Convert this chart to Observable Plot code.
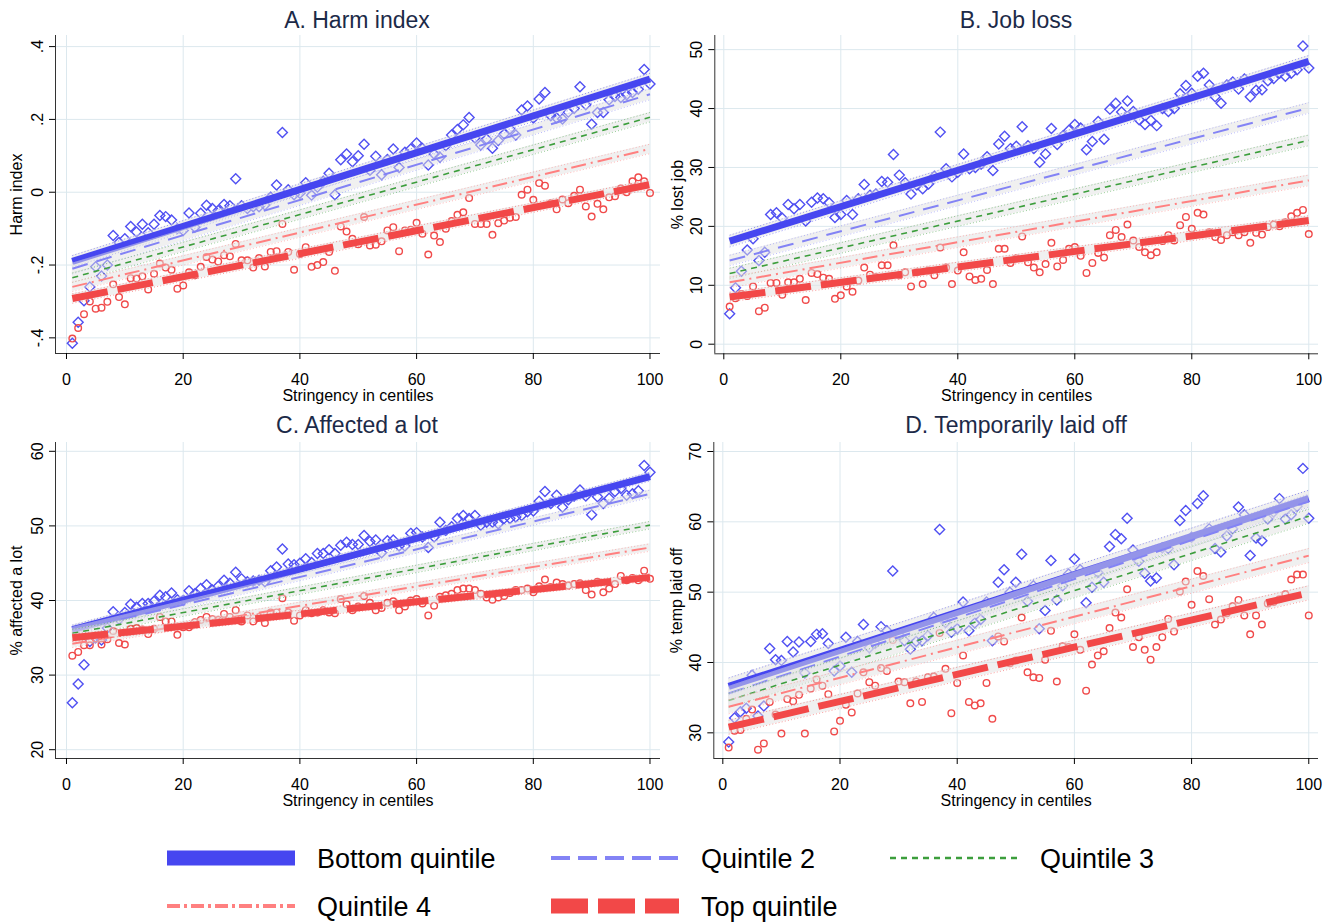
<!DOCTYPE html>
<html><head><meta charset="utf-8">
<script src="https://cdn.jsdelivr.net/npm/d3@7"></script>
<script src="https://cdn.jsdelivr.net/npm/@observablehq/plot@0.6"></script>
<style>
body{margin:0;background:#fff;font-family:"Liberation Sans",Arial,sans-serif;}
#wrap{position:relative;width:1334px;height:923px;overflow:hidden;background:#fff;}
.panel{position:absolute;}
.title{position:absolute;font-size:23px;color:#1c2a48;transform:translate(-50%,-50%);white-space:nowrap;}
</style></head><body><div id="wrap"></div>
<script>
const centiles = d3.range(1, 101);
const xTicks = [0, 20, 40, 60, 80, 100];
const quintiles = ["Bottom quintile", "Quintile 2", "Quintile 3", "Quintile 4", "Top quintile"];
const panelTitles = ["A. Harm index", "B. Job loss", "C. Affected a lot", "D. Temporarily laid off"];
const yLabels = ["Harm index", "% lost job", "% affected a lot", "% temp laid off"];
const xLabel = "Stringency in centiles";

const harmTicks = [-0.4, -0.2, 0, 0.2, 0.4];
const jobTicks = [0, 10, 20, 30, 40, 50];
const affTicks = [20, 30, 40, 50, 60];
const tempTicks = [30, 40, 50, 60, 70];

// Scatter: bottom quintile (diamonds) and top quintile (circles), centiles 1..100
const harmBottom = [-0.415,-0.357,-0.298,-0.26,-0.205,-0.23,-0.20,-0.119,-0.138,-0.128,
 -0.094,-0.109,-0.088,-0.111,-0.088,-0.064,-0.067,-0.076,-0.10,-0.105,
 -0.057,-0.096,-0.058,-0.036,-0.045,-0.05,-0.034,-0.037,0.037,-0.037,
 -0.045,-0.040,-0.040,-0.035,-0.014,0.02,0.164,0.007,-0.007,-0.003,
 0.026,-0.008,0.014,0.03,0.052,-0.007,0.089,0.105,0.084,0.10,
 0.132,0.06,0.099,0.048,0.09,0.119,0.068,0.11,0.119,0.135,
 0.12,0.075,0.105,0.096,0.128,0.157,0.172,0.185,0.205,0.149,
 0.13,0.146,0.121,0.142,0.16,0.174,0.157,0.226,0.237,0.204,
 0.256,0.274,0.21,0.204,0.201,0.22,0.23,0.29,0.24,0.187,
 0.219,0.219,0.254,0.263,0.26,0.268,0.274,0.283,0.337,0.297];
const harmTop = [-0.402,-0.373,-0.335,-0.30,-0.32,-0.317,-0.301,-0.253,-0.288,-0.308,
 -0.236,-0.237,-0.231,-0.267,-0.224,-0.196,-0.207,-0.213,-0.265,-0.256,
 -0.22,-0.228,-0.205,-0.178,-0.185,-0.19,-0.173,-0.176,-0.142,-0.187,
 -0.187,-0.207,-0.181,-0.204,-0.164,-0.162,-0.087,-0.164,-0.213,-0.17,
 -0.151,-0.205,-0.20,-0.192,-0.164,-0.216,-0.094,-0.108,-0.128,-0.143,
 -0.068,-0.146,-0.144,-0.135,-0.105,-0.096,-0.162,-0.105,-0.103,-0.084,
 -0.114,-0.171,-0.119,-0.137,-0.10,-0.079,-0.062,-0.055,-0.016,-0.087,
 -0.087,-0.087,-0.117,-0.085,-0.078,-0.07,-0.068,-0.007,0.007,-0.021,
 0.025,0.018,-0.03,-0.047,-0.02,-0.03,-0.01,0.007,-0.039,-0.067,
 -0.032,-0.047,-0.014,-0.011,0.01,0.0,0.03,0.041,0.03,-0.002];
const jobBottom = [5.15,9.57,12.4,16,17.9,14.2,15.6,22.0,22.3,21.4,
 23.7,23.0,23.7,20.9,24.1,24.8,24.7,24.0,21.5,22.0,
 24.4,22.0,24.7,27.1,25.3,25.5,27.6,27.5,32.2,28.7,
 27.4,25.5,27.0,26.4,27.2,28.5,36.0,29.8,28.4,29.2,
 32.3,29.8,30.0,30.6,31.8,29.5,34.0,35.3,33.2,33.6,
 36.9,33.7,33.2,30.9,32.3,36.6,33.9,35.4,36.3,37.3,
 36.7,33.0,34.4,37.8,34.8,39.9,40.9,39.4,41.3,39.5,
 38.1,37.3,38.0,37.1,40.0,39.5,40.0,42.5,43.9,42.6,
 45.5,46.0,44.0,42.0,40.9,44.0,44.5,43.3,45.0,42.0,
 43.1,43.2,44.7,45.1,46.0,45.5,46.0,46.6,50.6,46.9];
const jobTop = [6.4,7.8,8.5,8.2,9.8,5.6,6.2,10.4,10.4,8.4,
 10.5,10.5,11.1,7.5,12.1,11.9,11.3,11.1,7.7,8.3,
 9.8,8.9,10.8,13.0,11.8,11.4,13.4,13.4,16.8,11.7,
 12.2,9.8,12.2,10.2,12.5,11.7,16.4,13.0,10.2,12.5,
 15.6,11.5,10.9,11.1,12.6,10.2,16.2,16.2,13.8,14.6,
 18.3,13.9,13.0,12.2,13.6,17.2,13.2,14.3,16.2,16.5,
 15.0,12.1,13.8,15.5,14.7,18.5,19.4,18.2,20.3,17.6,
 16.5,15.6,15.1,15.6,17.5,18.5,17.6,20.2,21.6,19.6,
 22.3,22.0,19.0,18.2,17.7,18.5,19.0,18.5,19.0,17.2,
 18.9,18.6,19.9,20.3,20.0,20.7,21.7,22.3,22.8,18.7];
const affBottom = [26.3,28.8,31.4,34.5,35.0,34.7,36.3,38.5,37.5,38.4,
 39.5,39.1,39.6,39.6,39.9,40.7,40.5,41.0,40.1,40.0,
 41.3,40.9,41.6,42.1,41.4,41.9,42.7,42.3,43.8,42.9,
 42.5,42.6,42.7,42.5,44.0,44.5,46.9,44.9,44.8,45.0,
 45.6,45.1,46.3,46.3,46.8,46.3,47.4,47.8,47.5,47.5,
 48.7,47.9,48.1,46.4,48.0,48.1,47.3,47.3,49.0,49.1,
 48.5,47.1,48.5,50.5,49.4,49.9,51.0,51.4,51.0,51.4,
 50.1,50.5,50.5,50.3,51.0,51.0,51.2,51.4,51.9,52.0,
 53.3,54.6,53.0,54.1,52.5,53.5,54.0,54.8,54.0,51.5,
 53.9,53.0,53.7,54.6,55.0,54.1,54.3,54.7,58.1,57.2];
const affTop = [32.6,33.1,34.0,34.0,34.9,34.1,34.8,35.9,34.3,34.1,
 36.2,36.3,36.1,35.5,36.2,37.8,37.2,37.2,35.4,36.4,
 36.4,37.1,37.4,37.8,37.5,37.4,38.2,37.8,38.7,37.2,
 38.0,37.2,37.8,37.0,38.4,38.4,40.3,38.4,37.3,38.0,
 38.7,38.3,38.4,38.7,38.4,38.3,40.2,39.5,38.7,39.2,
 40.6,39.7,38.7,39.0,39.7,39.9,38.7,39.2,40.0,40.2,
 39.6,38.0,39.3,40.5,40.7,40.9,41.4,41.6,41.6,41.4,
 40.9,40.4,40.1,40.4,40.6,41.0,41.4,41.4,41.6,41.1,
 41.9,42.8,41.8,42.4,42.2,42.0,42.2,42.3,41.4,40.8,
 42.5,41.1,41.6,42.2,43.3,42.7,43.0,42.7,44.0,42.9];
const tempBottom = [28.7,32.1,33.0,33.5,38.2,32.4,33.8,42.0,40.4,40.3,
 43.0,41.5,42.9,38.5,43.0,44.0,44.1,42.7,38.8,39.5,
 43.6,38.6,43.0,45.4,42.1,42.7,45.1,44.5,53.0,44.0,
 43.1,41.9,43.0,43.1,43.8,46.4,58.9,45.7,44.3,44.8,
 48.6,44.5,45.6,46.1,48.6,43.1,51.4,53.2,50.0,51.4,
 55.4,48.7,50.9,44.8,47.4,54.5,48.9,50.9,52.6,54.7,
 53.2,48.5,50.7,52.8,51.4,56.5,58.2,57.6,60.5,56.0,
 54.4,52.7,51.6,52.0,56.3,56.2,53.9,60.2,61.6,57.8,
 62.6,63.7,59.0,56.2,55.7,58.0,59.0,62.1,61.0,55.2,
 57.7,57.3,60.4,61.4,63.3,60.4,61.0,62.2,67.6,60.5];
const tempTop = [27.9,30.3,30.4,32.0,33.3,27.6,28.5,34.4,32.6,29.9,
 34.8,34.5,35.4,29.9,36.3,37.6,36.7,35.5,30.2,31.7,
 34.0,32.9,35.6,38.6,37.2,36.7,39.2,38.8,43.2,37.3,
 37.2,34.2,37.3,34.4,37.9,38.0,44.2,39.1,32.8,37.1,
 41.0,34.4,33.9,34.2,37.1,32.0,43.7,43.0,39.9,40.3,
 46.4,38.6,37.9,37.8,40.4,44.5,37.3,42.3,42.2,44.0,
 41.8,36.0,39.7,41.0,41.6,44.9,47.1,46.4,50.4,42.2,
 43.6,41.8,40.4,42.2,43.6,46.2,44.4,50.1,51.5,48.2,
 53.0,52.3,49.0,45.4,46.1,47.0,48.0,48.9,46.7,44.0,
 46.7,45.4,48.4,48.6,49.0,49.7,51.8,52.5,52.5,46.7];

// Fitted lines (value at centile 1 and centile 100) for the five quintiles, and CI half-widths
const harmFitStart = [-0.19, -0.21, -0.235, -0.26, -0.292];
const harmFitEnd   = [0.311, 0.269, 0.206, 0.119, 0.021];
const harmCI       = [0.016, 0.015, 0.013, 0.013, 0.013];
const jobFitStart  = [17.5, 14.2, 12.0, 10.5, 8.0];
const jobFitEnd    = [48.0, 40.1, 34.6, 27.8, 21.0];
const jobCI        = [1.0, 0.9, 0.9, 0.9, 0.8];
const affFitStart  = [36.1, 35.9, 35.6, 34.2, 35.0];
const affFitEnd    = [56.6, 54.3, 50.1, 47.1, 43.1];
const affCI        = [0.6, 0.5, 0.5, 0.5, 0.5];
const tempFitStart = [36.6, 35.6, 34.6, 33.7, 30.8];
const tempFitEnd   = [63.3, 62.9, 60.8, 55.2, 49.9];
const tempCI       = [1.2, 1.0, 1.0, 1.0, 1.0];

const lineStyles = [
  {stroke: "#4646f0", width: 7, dash: null},
  {stroke: "#8383f5", width: 2, dash: "16,9"},
  {stroke: "#3c9e3c", width: 1.6, dash: "6,5"},
  {stroke: "#ff8080", width: 2, dash: "15,5,2,5"},
  {stroke: "#f24848", width: 7, dash: "36,10"}
];
const stataFmt = d => d === 0 ? "0" : (d < 0 ? "-" : "") + String(Math.abs(+d.toFixed(2))).replace(/^0/, "");

const panels = [
  {title: panelTitles[0], ylabel: yLabels[0], bottom: harmBottom, top: harmTop, fs: harmFitStart, fe: harmFitEnd, ci: harmCI, yTicks: harmTicks, fmt: stataFmt,
   left: 0, topPx: 0, mL: 55, mR: 7, mT: 35, mB: 57, xd: [-1.885, 101.8], yd: [-0.443, 0.4305], lo: 45, tcx: 357, tcy: 20},
  {title: panelTitles[1], ylabel: yLabels[1], bottom: jobBottom, top: jobTop, fs: jobFitStart, fe: jobFitEnd, ci: jobCI, yTicks: jobTicks, fmt: d => String(d),
   left: 667, topPx: 0, mL: 47.3, mR: 16, mT: 35, mB: 56.7, xd: [-1.54, 101.66], yd: [-1.63, 52.4], lo: 43, tcx: 1016, tcy: 20},
  {title: panelTitles[2], ylabel: yLabels[2], bottom: affBottom, top: affTop, fs: affFitStart, fe: affFitEnd, ci: affCI, yTicks: affTicks, fmt: d => String(d),
   left: 0, topPx: 405, mL: 55, mR: 7, mT: 37, mB: 57, xd: [-1.885, 101.8], yd: [18.82, 61.18], lo: 45, tcx: 357, tcy: 425},
  {title: panelTitles[3], ylabel: yLabels[3], bottom: tempBottom, top: tempTop, fs: tempFitStart, fe: tempFitEnd, ci: tempCI, yTicks: tempTicks, fmt: d => String(d),
   left: 667, topPx: 405, mL: 46.3, mR: 16, mT: 37, mB: 57, xd: [-1.54, 101.66], yd: [26.35, 71.28], lo: 43, tcx: 1016, tcy: 425}
];

const wrap = document.getElementById("wrap");

panels.forEach(p => {
  const pts = centiles.map((c, i) => ({x: c, b: p.bottom[i], t: p.top[i]}));
  const marks = [
    Plot.gridX({ticks: xTicks, stroke: "#dce8ee", strokeOpacity: 1, strokeWidth: 1}),
    Plot.gridY({ticks: p.yTicks, stroke: "#dce8ee", strokeOpacity: 1, strokeWidth: 1}),
    Plot.dot(pts, {x: "x", y: "b", symbol: "diamond2", r: 4.5, stroke: "#5050f2", strokeWidth: 1.4, fill: "none"}),
    Plot.dot(pts, {x: "x", y: "t", symbol: "circle", r: 3.3, stroke: "#f04a4a", strokeWidth: 1.4, fill: "none"})
  ];
  quintiles.forEach((q, k) => {
    const seg = [{x: centiles[0], y: p.fs[k]}, {x: centiles[centiles.length - 1], y: p.fe[k]}];
    const h = p.ci[k];
    const st = lineStyles[k];
    marks.push(Plot.areaY(seg, {x: "x", y1: d => d.y - h, y2: d => d.y + h, fill: "#e2e2e2", fillOpacity: 0.5}));
    marks.push(Plot.line(seg, {x: "x", y: d => d.y - h, stroke: st.stroke, strokeOpacity: 0.55, strokeWidth: 1, strokeDasharray: "1,2.2", strokeLinecap: "butt"}));
    marks.push(Plot.line(seg, {x: "x", y: d => d.y + h, stroke: st.stroke, strokeOpacity: 0.55, strokeWidth: 1, strokeDasharray: "1,2.2", strokeLinecap: "butt"}));
    const lo = {x: "x", y: "y", stroke: st.stroke, strokeWidth: st.width, strokeLinecap: "butt"};
    if (st.dash) lo.strokeDasharray = st.dash;
    marks.push(Plot.line(seg, lo));
  });
  marks.push(
    Plot.ruleX([p.xd[0]], {stroke: "#333", strokeWidth: 1}),
    Plot.ruleY([p.yd[0]], {stroke: "#333", strokeWidth: 1}),
    Plot.axisX({ticks: xTicks, tickSize: 6, tickPadding: 14, fontSize: 16, label: xLabel, labelAnchor: "center", labelArrow: "none", labelOffset: 47}),
    Plot.axisY({ticks: p.yTicks, tickSize: 6, tickPadding: 7, tickRotate: -90, fontSize: 16, tickFormat: p.fmt, label: p.ylabel, labelAnchor: "center", labelArrow: "none", labelOffset: p.lo})
  );
  const chart = Plot.plot({
    width: 667, height: 410,
    marginLeft: p.mL, marginRight: p.mR, marginTop: p.mT, marginBottom: p.mB,
    style: {fontFamily: "'Liberation Sans', Arial, sans-serif", fontSize: "17px", color: "#000", background: "transparent", overflow: "visible"},
    x: {domain: p.xd, axis: null},
    y: {domain: p.yd, axis: null},
    marks
  });
  chart.classList.add("panel");
  chart.style.left = p.left + "px";
  chart.style.top = p.topPx + "px";
  wrap.appendChild(chart);
  const t = document.createElement("div");
  t.className = "title";
  t.textContent = p.title;
  t.style.left = p.tcx + "px";
  t.style.top = p.tcy + "px";
  wrap.appendChild(t);
});

// Legend
const legendItems = [
  {label: quintiles[0], x: 167, y: 858},
  {label: quintiles[1], x: 551, y: 858},
  {label: quintiles[2], x: 890, y: 858},
  {label: quintiles[3], x: 167, y: 906},
  {label: quintiles[4], x: 551, y: 906}
];
const legendDash = [null, "19,8", "6,5", "13,4,3,4", "37,10"];
const legendWidth = [15, 4, 2.5, 4, 15];
const svg = d3.select(wrap).append("svg")
  .attr("width", 1334).attr("height", 923)
  .style("position", "absolute").style("left", "0px").style("top", "0px").style("pointer-events", "none");
legendItems.forEach((it, k) => {
  const ln = svg.append("line")
    .attr("x1", it.x).attr("x2", it.x + 128).attr("y1", it.y).attr("y2", it.y)
    .attr("stroke", lineStyles[k].stroke).attr("stroke-width", legendWidth[k]);
  if (legendDash[k]) ln.attr("stroke-dasharray", legendDash[k]);
  svg.append("text").attr("x", it.x + 150).attr("y", it.y + 9.5)
    .attr("font-family", "'Liberation Sans', Arial, sans-serif").attr("font-size", 27).attr("fill", "#000")
    .text(it.label);
});
</script>
</body></html>
